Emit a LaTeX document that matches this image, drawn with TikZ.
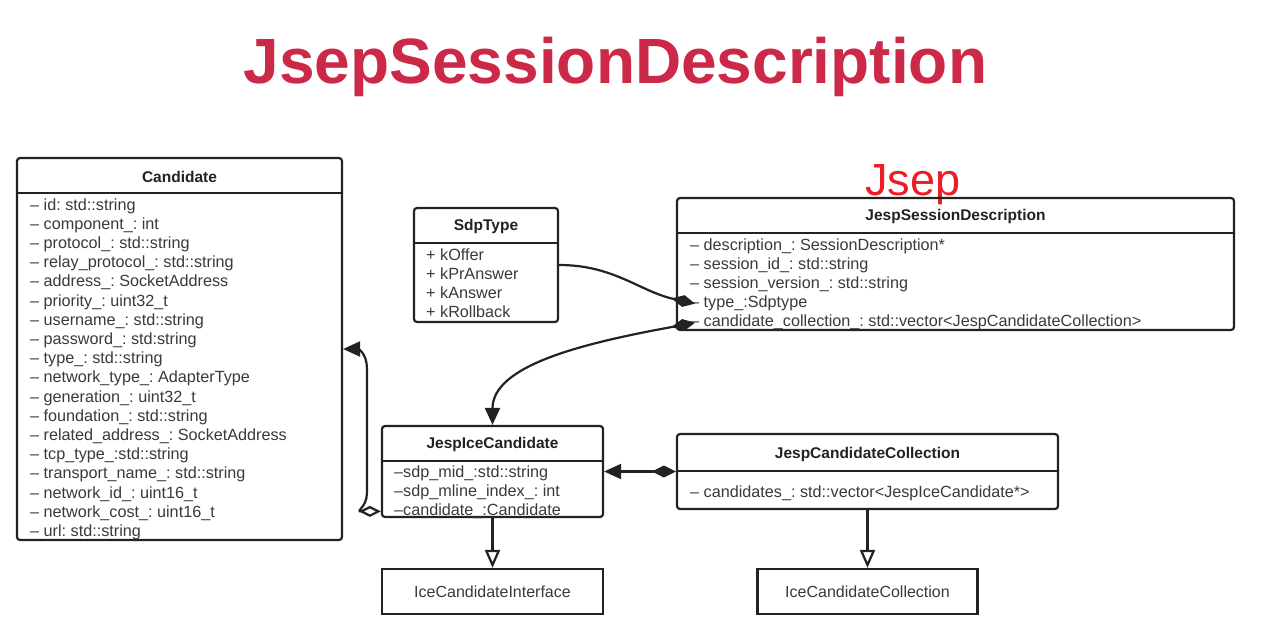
\documentclass[tikz,border=0pt]{standalone}
\usepackage{fontspec}
\setmainfont{Liberation Sans}
\usepackage{xcolor}
\usepackage{tikz}
\usetikzlibrary{arrows.meta, positioning, calc}
\definecolor{titlered}{HTML}{CC2848}
\definecolor{jsepred}{HTML}{EE1C25}
\definecolor{umlline}{HTML}{222222}
\definecolor{umltext}{HTML}{3A3A3A}
\frenchspacing

\tikzset{
  classbox/.style={draw=umlline, line width=2.2pt, rounded corners=3pt, inner sep=0pt},
  plainbox/.style={draw=umlline, line width=2.2pt, inner sep=0pt, font=\fontsize{16}{18}\selectfont, text=umltext},
  classname/.style={font=\fontsize{15.5}{18}\selectfont\bfseries, text=umlline, inner sep=0pt},
  attr/.style={font=\fontsize{16.2}{18}\selectfont, text=umltext, inner sep=0pt, anchor=west, text height=11pt, text depth=3pt},
  sepline/.style={draw=umlline, line width=2pt},
  link/.style={draw=umlline, line width=2.2pt},
  owns/.tip={Diamond[length=24pt, width=12pt]},
  holds/.tip={Diamond[open, length=22pt, width=11pt]},
  points/.tip={Triangle[length=17pt, width=15pt]},
  derives/.tip={Triangle[open, length=18pt, width=15pt]},
}

\begin{document}
\begin{tikzpicture}[x=1pt, y=-1pt]
  \fill[white] (0,0) rectangle (1261,627);
  \useasboundingbox (0,0) rectangle (1261,627);

  \node[font=\fontsize{64}{64}\selectfont\bfseries, text=titlered, anchor=base] (title) at (615.5,83) {JsepSessionDescription};
  \node[font=\fontsize{45}{45}\selectfont, text=jsepred, anchor=base west, inner sep=0pt] (jsep) at (865,195) {Jsep};

  % class boxes
  \node[classbox, minimum width=325pt, minimum height=382pt] (cand) at (179.5,349) {};
  \node[classbox, minimum width=144pt, minimum height=114pt] (sdp) at (486,265) {};
  \node[classbox, minimum width=557pt, minimum height=132pt] (jsd) at (955.5,264) {};
  \node[classbox, minimum width=221pt, minimum height=91pt] (ice) at (492.5,471.5) {};
  \node[classbox, minimum width=381pt, minimum height=75pt] (coll) at (867.5,471.5) {};
  \node[plainbox, minimum width=221pt, minimum height=45pt] (iface) at (492.5,591.5) {IceCandidateInterface};
  \node[plainbox, minimum width=220pt, minimum height=45pt] (icoll) at (867.5,591.5) {IceCandidateCollection};

  \foreach \cls in {cand, sdp, jsd, ice}
    \draw[sepline] ([yshift=-36pt]\cls.north west) -- ([yshift=-36pt]\cls.north east);
  \draw[sepline] ([yshift=-38pt]coll.north west) -- ([yshift=-38pt]coll.north east);

  \node[classname] (cand-name) at ([yshift=-20pt]cand.north) {Candidate};
  \node[classname] (sdp-name) at ([yshift=-20pt]sdp.north) {SdpType};
  \node[classname] (jsd-name) at ([yshift=-20pt]jsd.north) {JespSessionDescription};
  \node[classname] (ice-name) at ([yshift=-20pt]ice.north) {JespIceCandidate};
  \node[classname] (coll-name) at ([yshift=-22pt]coll.north) {JespCandidateCollection};

  \foreach \a [count=\i] in {– id: std::string, – component\_: int, – protocol\_: std::string,
      – relay\_protocol\_: std::string, – address\_: SocketAddress, – priority\_: uint32\_t,
      – username\_: std::string, – password\_: std:string, – type\_: std::string,
      – network\_type\_: AdapterType, – generation\_: uint32\_t, – foundation\_: std::string,
      – related\_address\_: SocketAddress, – tcp\_type\_:std::string, – transport\_name\_: std::string,
      – network\_id\_: uint16\_t, – network\_cost\_: uint16\_t, – url: std::string}
    \node[attr] (cand-\i) at (30,{206+(\i-1)*19.2}) {\a};

  \foreach \a [count=\i] in {+ kOffer, + kPrAnswer, + kAnswer, + kRollback}
    \node[attr] (sdp-\i) at (426,{256+(\i-1)*19.2}) {\a};

  \foreach \a [count=\i] in {– description\_: SessionDescription*, – session\_id\_: std::string,
      – session\_version\_: std::string, – type\_:Sdptype,
      – candidate\_collection\_: std::vector<JespCandidateCollection>}
    \node[attr] (jsd-\i) at (690,{246+(\i-1)*19.2}) {\a};

  \foreach \a [count=\i] in {–sdp\_mid\_:std::string, –sdp\_mline\_index\_: int, –candidate\_:Candidate}
    \node[attr] (ice-\i) at (394,{473+(\i-1)*19.2}) {\a};

  \node[attr] (coll-1) at (690,493) {– candidates\_: std::vector<JespIceCandidate*>};

  % relations
  \draw[link, -owns] (sdp.east) .. controls +(55,0) and +(-55,-12) .. ([xshift=5pt]jsd-4.west);
  \draw[link, owns-points] ([xshift=5pt]jsd-5.west) .. controls +(-110,20) and +(0,-60) .. (ice.north);
  \draw[link, owns-points] (coll.west) -- (ice.east);
  \draw[link, holds-points] (ice.west |- ice-3) .. controls +(-26,0) and +(0,14) .. ++(-14,-18)
    -- ++(0,-125) .. controls +(0,-16) and +(14,0) .. (cand.east);
  \draw[link, -derives] (ice.south) -- (iface.north);
  \draw[link, -derives] (coll.south) -- (icoll.north);
\end{tikzpicture}
\end{document}
